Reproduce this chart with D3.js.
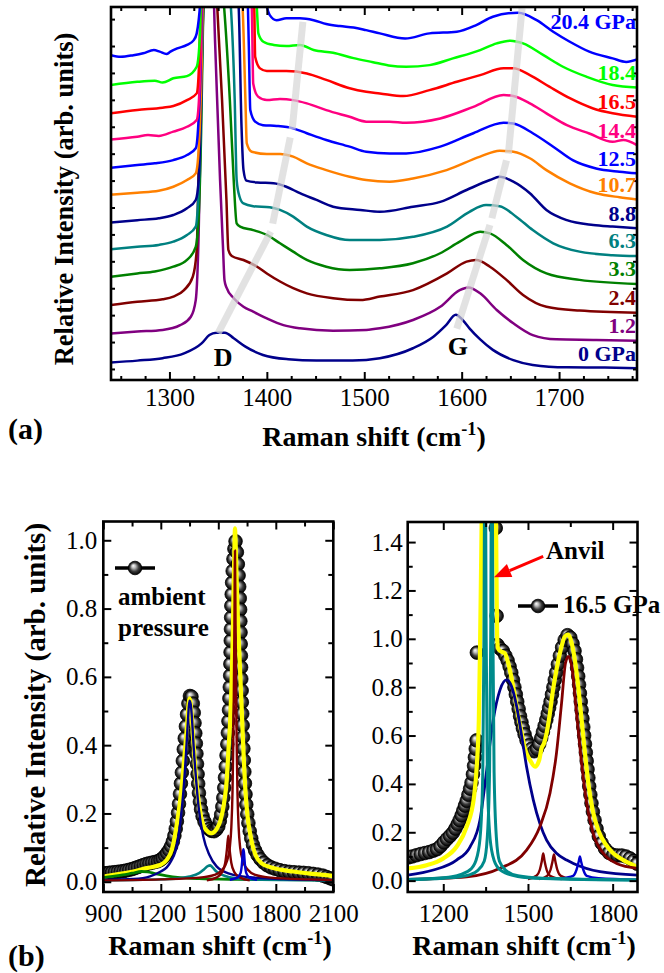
<!DOCTYPE html>
<html>
<head>
<meta charset="utf-8">
<script src="https://cdn.jsdelivr.net/npm/d3@7"></script>
<style>
  body { margin: 0; background: #fff; }
  svg { display: block; }
  text { font-family: "Liberation Serif", "Times New Roman", serif; fill: #000; }
</style>
</head>
<body>
<svg id="chart" width="664" height="973"></svg>
<script>
// ---------- panel (a): Raman spectra vs pressure, offset ----------
const pressureLabels = ['0 GPa', '1.2', '2.4', '3.3', '6.3', '8.8', '10.7', '12.5', '14.4', '16.5', '18.4', '20.4 GPa'];
const colorsA = ['#00008b', '#800080', '#800000', '#008000', '#008080', '#00008b',
                 '#ff8000', '#0000ff', '#ff0080', '#ff0000', '#00ff00', '#0000ff'];
const xTicksA = [1300, 1400, 1500, 1600, 1700];

const spec00 = [[1240,0.24],[1267,0.31],[1293,0.40],[1315,0.58],[1333,0.95],[1341,1.26],[1348,1.35],[1357,1.35],[1366,1.14],[1378,0.83],[1396,0.52],[1422,0.36],[1451,0.31],[1488,0.31],[1516,0.40],[1550,0.77],[1571,1.20],[1584,1.63],[1594,2.01],[1601,1.82],[1608,1.51],[1619,1.10],[1632,0.71],[1653,0.33],[1673,0.15],[1708,0.06],[1747,0.05],[1780,0.03]];
const spec12 = [[1240,1.32],[1267,1.39],[1293,1.45],[1311,1.63],[1322,1.94],[1327,2.56],[1330,5.04],[1332,8.75],[1334,12.5],[1339,15],[1344,15],[1347,12],[1352,7],[1355,4.5],[1356.5,3.3],[1358.5,3.03],[1366,2.63],[1376,2.31],[1386,2.13],[1400,1.88],[1417,1.63],[1434,1.51],[1468,1.42],[1502,1.45],[1516,1.51],[1550,1.82],[1578,2.31],[1598,2.93],[1607,3.03],[1619,2.81],[1636,2.19],[1653,1.70],[1673,1.26],[1697,1.10],[1738,1.08],[1780,1.05]];
const spec24 = [[1240,2.38],[1267,2.50],[1293,2.59],[1304,2.69],[1315,2.93],[1324,3.43],[1328,4.42],[1330,7.52],[1333,11.2],[1335,15],[1346,15],[1349,13.5],[1354,10],[1358.5,6.3],[1360.5,4.42],[1364,4.20],[1376,4.05],[1390,3.80],[1400,3.55],[1414,3.24],[1427,3.00],[1441,2.81],[1468,2.63],[1496,2.56],[1516,2.69],[1550,2.93],[1585,3.55],[1605,3.99],[1615,4.05],[1629,3.80],[1646,3.31],[1663,2.75],[1687,2.31],[1721,2.17],[1780,2.09]];
const spec33 = [[1240,3.43],[1267,3.55],[1285,3.62],[1304,3.80],[1318,4.05],[1327,4.54],[1330,5.66],[1332.5,8.75],[1334.3,12.5],[1336,15],[1352,15],[1356,13.5],[1362,10],[1366,7.0],[1369,5.41],[1372.5,5.29],[1386,5.16],[1400,4.98],[1413.5,4.67],[1427,4.36],[1441,4.05],[1461,3.80],[1485,3.68],[1516,3.74],[1550,3.93],[1578,4.30],[1598,4.73],[1619,5.10],[1629,5.04],[1646,4.61],[1663,4.05],[1687,3.55],[1721,3.31],[1780,3.16]];
const spec63 = [[1240,4.45],[1267,4.54],[1289,4.61],[1304,4.73],[1318,4.98],[1327,5.29],[1329.5,6.28],[1332,8.75],[1334,12.5],[1335.5,15],[1358,15],[1363,13.5],[1367,10],[1369,7.02],[1372,6.40],[1376,6.15],[1386,6.05],[1403,6.01],[1413.5,5.91],[1427,5.66],[1441,5.29],[1461,4.98],[1485,4.79],[1516,4.79],[1550,4.91],[1585,5.29],[1608,5.84],[1625,6.09],[1639,6.05],[1656,5.66],[1673,5.16],[1694,4.67],[1721,4.36],[1755,4.23],[1780,4.20]];
const spec88 = [[1240,5.44],[1267,5.53],[1289,5.60],[1304,5.72],[1318,5.97],[1327,6.28],[1330,7.02],[1332.5,10],[1335,15],[1366,15],[1371,13.5],[1374,9],[1376,7.4],[1379,7.0],[1390,6.93],[1407,6.90],[1420,6.77],[1434,6.53],[1451,6.28],[1468,6.03],[1496,5.91],[1516,5.84],[1550,6.03],[1578,6.21],[1605,6.65],[1629,7.02],[1639,7.14],[1653,6.96],[1670,6.53],[1687,5.91],[1708,5.53],[1735,5.35],[1755,5.29],[1780,5.23]];
const spec107 = [[1240,6.48],[1267,6.55],[1289,6.62],[1304,6.77],[1318,7.02],[1327,7.27],[1330,8.14],[1333,11.2],[1335,15],[1370,15],[1375,13.5],[1378,10],[1379.4,8.38],[1384.5,8.07],[1400,7.99],[1413.5,7.99],[1427,7.89],[1441,7.64],[1461,7.39],[1485,7.14],[1502,7.02],[1526,6.96],[1550,7.08],[1584.5,7.39],[1619,7.89],[1639,8.11],[1653,8.07],[1670,7.83],[1687,7.39],[1711,6.90],[1738,6.53],[1762,6.38],[1780,6.30]];
const spec125 = [[1240,7.48],[1267,7.58],[1285,7.64],[1304,7.76],[1318,7.95],[1327,8.20],[1329.5,9.0],[1332.5,11.85],[1334,15],[1379,15],[1381.5,12],[1383,9.62],[1388,9.19],[1396,9.06],[1410,9.03],[1427,8.94],[1441,8.76],[1461,8.51],[1485,8.26],[1502,8.07],[1526,8.01],[1543,8.01],[1578,8.26],[1612,8.76],[1643,9.15],[1653,9.12],[1673,8.76],[1694,8.26],[1714,7.76],[1738,7.45],[1762,7.33],[1780,7.27]];
const spec144 = [[1240,8.53],[1267,8.63],[1278,8.69],[1289,8.66],[1304,8.82],[1318,9.00],[1328,9.25],[1330.3,9.99],[1332.5,12.47],[1333.5,15],[1380,15],[1384.5,13.5],[1386,10.61],[1391,10.12],[1400,9.99],[1413.5,10.03],[1427,9.99],[1441,9.87],[1461,9.62],[1485,9.37],[1502,9.19],[1526,9.19],[1543,9.15],[1578,9.31],[1612,9.74],[1643,10.18],[1653,10.14],[1670,9.87],[1687,9.50],[1708,9.06],[1731,8.75],[1755,8.44],[1766,8.51],[1780,8.32]];
const spec165 = [[1240,9.50],[1267,9.62],[1293,9.71],[1304,9.77],[1318,9.99],[1328,10.24],[1330.3,11.23],[1332,13.4],[1333,15],[1382,15],[1387,13.5],[1388,11.6],[1393,11.17],[1400,11.07],[1420,11.07],[1441,10.98],[1461,10.74],[1485,10.43],[1502,10.30],[1516,10.24],[1540,10.14],[1567,10.36],[1595,10.67],[1619,10.92],[1643,11.17],[1653,11.17],[1670,10.92],[1690,10.49],[1711,10.06],[1735,9.68],[1755,9.50],[1780,9.37]];
const spec184 = [[1240,10.55],[1267,10.67],[1285,10.71],[1293,10.64],[1304,10.80],[1318,10.88],[1328,11.23],[1331.4,12.47],[1333,15],[1386,15],[1389.6,13.5],[1391.3,12.47],[1396.4,12.16],[1407,12.04],[1420,12.00],[1434,12.04],[1448,11.85],[1468,11.75],[1489,11.55],[1509,11.40],[1525,11.28],[1543,11.23],[1567,11.29],[1591,11.54],[1619,11.85],[1636,12.10],[1650,12.20],[1663,12.10],[1684,11.66],[1704,11.23],[1728,10.86],[1755,10.55],[1780,10.46]];
const spec204 = [[1240,11.66],[1250,11.60],[1263,11.66],[1273,11.73],[1284,11.85],[1290,11.79],[1297,11.70],[1301,11.79],[1308,11.91],[1318,12.04],[1325,12.22],[1328,12.47],[1330,12.96],[1331.5,13.6],[1333,15],[1392,15],[1398,13.8],[1400,13.46],[1403,13.15],[1410,12.96],[1420,13.03],[1434,13.03],[1448,12.96],[1461,12.82],[1475,12.74],[1489,12.69],[1502,12.59],[1516,12.47],[1542,12.28],[1567,12.47],[1595,12.53],[1615,12.78],[1632,13.09],[1658,13.24],[1677,12.96],[1694,12.53],[1711,12.16],[1731,11.79],[1755,11.54],[1769,11.41],[1780,11.50]];
const spectraA = [spec00, spec12, spec24, spec33, spec63, spec88, spec107, spec125, spec144, spec165, spec184, spec204];

// grey guides following the D and G band positions
const dBand = [[[1350,1.33],[1404,5.1]], [[1406,5.4],[1424,8.6]], [[1426,8.9],[1437,12.9]]];
const gBand = [[[1595,1.5],[1629,5.35]], [[1631,5.6],[1646,7.75]], [[1648,8.0],[1662,13.4]]];

// ---------- panel (b) left: ambient pressure fit ----------
const xTicksBL = [900, 1200, 1500, 1800, 2100];
const yTicksBL = [0, 0.2, 0.4, 0.6, 0.8, 1.0];
const ambientData = [[900,0.025],[915,0.025],[930,0.026],[945,0.027],[960,0.028],[975,0.029],[990,0.030],[1005,0.031],[1020,0.033],[1035,0.035],[1050,0.037],[1065,0.040],[1080,0.043],[1095,0.046],[1110,0.049],[1125,0.052],[1140,0.054],[1155,0.056],[1170,0.058],[1185,0.060],[1198,0.064],[1210,0.069],[1222,0.076],[1233,0.084],[1244,0.093],[1254,0.104],[1263,0.118],[1271,0.135],[1278,0.155],[1284,0.177],[1290,0.202],[1295,0.228],[1300,0.257],[1305,0.288],[1310,0.32],[1315,0.354],[1320,0.388],[1325,0.42],[1331,0.455],[1337,0.49],[1344,0.522],[1352,0.544],[1360,0.542],[1367,0.522],[1372,0.495],[1376,0.465],[1380,0.435],[1383,0.405],[1386,0.375],[1389,0.345],[1392,0.315],[1395,0.287],[1399,0.26],[1404,0.234],[1410,0.212],[1418,0.192],[1428,0.176],[1440,0.163],[1452,0.154],[1465,0.149],[1478,0.148],[1490,0.153],[1500,0.162],[1508,0.178],[1515,0.197],[1521,0.22],[1526,0.246],[1531,0.275],[1535,0.305],[1539,0.337],[1543,0.37],[1547,0.403],[1550,0.436],[1553,0.47],[1556,0.503],[1558,0.537],[1560,0.57],[1562,0.604],[1563,0.638],[1564,0.672],[1565,0.706],[1566,0.74],[1567,0.774],[1568,0.808],[1570,0.842],[1572,0.876],[1575,0.91],[1579,0.945],[1584,0.975],[1590,0.997],[1597,0.965],[1602,0.93],[1606,0.897],[1609,0.864],[1612,0.83],[1614,0.797],[1615,0.763],[1616,0.73],[1617,0.696],[1618,0.662],[1619,0.628],[1620,0.594],[1622,0.56],[1623,0.526],[1625,0.492],[1627,0.458],[1629,0.424],[1631,0.39],[1633,0.356],[1636,0.322],[1639,0.288],[1642,0.256],[1646,0.226],[1651,0.198],[1657,0.172],[1664,0.148],[1672,0.127],[1681,0.108],[1692,0.092],[1705,0.078],[1720,0.066],[1737,0.056],[1756,0.048],[1776,0.042],[1797,0.038],[1820,0.034],[1845,0.031],[1870,0.029],[1895,0.028],[1920,0.027],[1945,0.026],[1970,0.025],[1995,0.023],[2020,0.021],[2045,0.018],[2065,0.014],[2085,0.010],[2100,0.007]];
const ambientFit = [[900,0.015],[987,0.023],[1057,0.030],[1126,0.040],[1196,0.049],[1231,0.064],[1257,0.093],[1279,0.152],[1297,0.220],[1314,0.308],[1328,0.396],[1339,0.473],[1345,0.522],[1350,0.537],[1356,0.522],[1366,0.444],[1378,0.347],[1392,0.259],[1410,0.191],[1436,0.152],[1465,0.142],[1491,0.154],[1512,0.181],[1530,0.230],[1544,0.298],[1552,0.376],[1561,0.46],[1568,0.56],[1574,0.68],[1578,0.8],[1582,0.92],[1585,1.0],[1587,1.035],[1590,1.0],[1594,0.92],[1598,0.84],[1603,0.76],[1609,0.68],[1615,0.6],[1621,0.52],[1627,0.44],[1633,0.36],[1640,0.28],[1651,0.2],[1669,0.132],[1691,0.083],[1726,0.054],[1787,0.040],[1892,0.030],[1996,0.023],[2100,0.017]];
const ambientDBand = [[900,0.005],[1057,0.008],[1144,0.016],[1200,0.03],[1231,0.042],[1255,0.062],[1274,0.085],[1290,0.125],[1305,0.19],[1318,0.265],[1332,0.38],[1342,0.475],[1349,0.53],[1356,0.52],[1363,0.475],[1372,0.39],[1384,0.3],[1399,0.21],[1422,0.132],[1453,0.079],[1491,0.045],[1561,0.023],[1665,0.013],[1839,0.008],[2100,0.005]];
const ambientGBand = [[900,0.004],[1200,0.007],[1400,0.012],[1480,0.02],[1520,0.035],[1545,0.06],[1560,0.1],[1568,0.16],[1574,0.26],[1578,0.4],[1581,0.55],[1584,0.75],[1587,0.97],[1590,0.75],[1593,0.55],[1596,0.4],[1600,0.26],[1606,0.16],[1614,0.1],[1629,0.06],[1654,0.035],[1694,0.02],[1774,0.012],[1974,0.007],[2100,0.005]];
const ambientD2 = [[1440,0.004],[1490,0.012],[1520,0.028],[1536,0.055],[1545,0.095],[1552,0.135],[1559,0.095],[1568,0.055],[1584,0.028],[1614,0.012],[1664,0.004]];
const ambientDPrime = [[1560,0.006],[1600,0.012],[1616,0.025],[1623,0.05],[1628,0.085],[1631,0.095],[1634,0.085],[1639,0.05],[1646,0.025],[1662,0.012],[1702,0.006]];
const ambientTeal = [[900,0.004],[1250,0.008],[1350,0.015],[1400,0.025],[1425,0.036],[1445,0.046],[1458,0.048],[1470,0.042],[1490,0.03],[1520,0.02],[1560,0.013],[1650,0.007],[2100,0.004]];
const ambientGreen = [[900,0.012],[950,0.016],[1000,0.02],[1050,0.025],[1100,0.03],[1130,0.029],[1170,0.024],[1230,0.017],[1300,0.012],[1400,0.009],[1600,0.007],[1850,0.006],[2100,0.005]];

// ---------- panel (b) right: 16.5 GPa fit ----------
const xTicksBR = [1200, 1500, 1800];
const yTicksBR = [0, 0.2, 0.4, 0.6, 0.8, 1.0, 1.2, 1.4];
const hpData = [[1076,0.096],[1090,0.10],[1105,0.105],[1120,0.11],[1135,0.114],[1150,0.118],[1165,0.124],[1178,0.13],[1190,0.142],[1202,0.158],[1213,0.172],[1224,0.185],[1234,0.198],[1243,0.215],[1251,0.233],[1258,0.25],[1265,0.27],[1271,0.29],[1277,0.31],[1283,0.33],[1289,0.355],[1295,0.38],[1300,0.405],[1305,0.44],[1309,0.475],[1312,0.51],[1315,0.545],[1318,0.58],[1319,0.943],[1386,1.458],[1389,1.095],[1392,0.975],[1401,0.96],[1411,0.95],[1420,0.93],[1428,0.91],[1435,0.885],[1441,0.86],[1447,0.83],[1452,0.80],[1457,0.77],[1462,0.74],[1467,0.71],[1472,0.68],[1477,0.655],[1482,0.63],[1488,0.605],[1495,0.58],[1503,0.56],[1512,0.545],[1522,0.535],[1532,0.545],[1540,0.565],[1547,0.59],[1553,0.615],[1559,0.64],[1565,0.665],[1570,0.69],[1575,0.715],[1580,0.74],[1585,0.77],[1590,0.80],[1595,0.83],[1600,0.86],[1606,0.895],[1613,0.93],[1621,0.965],[1630,0.995],[1640,1.015],[1650,1.005],[1658,0.98],[1665,0.95],[1670,0.915],[1674,0.88],[1678,0.845],[1681,0.81],[1684,0.775],[1687,0.74],[1690,0.705],[1693,0.67],[1696,0.635],[1699,0.60],[1702,0.565],[1705,0.53],[1708,0.495],[1711,0.46],[1714,0.425],[1717,0.39],[1721,0.355],[1725,0.32],[1730,0.285],[1736,0.25],[1743,0.215],[1751,0.183],[1761,0.155],[1773,0.132],[1787,0.115],[1802,0.106],[1817,0.104],[1832,0.104],[1847,0.10],[1861,0.092],[1874,0.082],[1886,0.07]];
const hpFit = [[1076,0.051],[1141,0.064],[1200,0.092],[1247,0.140],[1283,0.223],[1309,0.347],[1320,0.499],[1326,0.665],[1330,0.94],[1334,1.3],[1337,1.6],[1340,2.0],[1348,4],[1360,2.5],[1372,4],[1382,2.0],[1386,1.6],[1389,1.2],[1391,1.0],[1394,0.96],[1401,0.95],[1418,0.94],[1430,0.9],[1442,0.837],[1454,0.761],[1466,0.678],[1478,0.61],[1489,0.547],[1507,0.499],[1525,0.471],[1540,0.499],[1548,0.547],[1557,0.568],[1566,0.61],[1576,0.678],[1587,0.775],[1601,0.872],[1616,0.955],[1631,1.01],[1643,1.017],[1655,0.982],[1666,0.913],[1678,0.803],[1690,0.665],[1702,0.527],[1714,0.402],[1729,0.292],[1749,0.209],[1773,0.154],[1802,0.113],[1838,0.085],[1887,0.057]];
const hpAnvil1 = [[1074,0.005],[1200,0.012],[1260,0.025],[1300,0.05],[1320,0.10],[1332,0.2],[1340,0.45],[1344,1.0],[1346,1.6],[1348,3],[1350,1.6],[1352,1.0],[1356,0.45],[1364,0.2],[1376,0.10],[1396,0.05],[1436,0.025],[1500,0.012],[1650,0.006],[1888,0.003]];
const hpAnvil2 = [[1074,0.004],[1200,0.01],[1280,0.02],[1320,0.04],[1345,0.08],[1356,0.18],[1364,0.45],[1368,1.0],[1370,1.6],[1372,3],[1374,1.6],[1376,1.0],[1380,0.45],[1388,0.18],[1399,0.08],[1424,0.04],[1464,0.02],[1550,0.01],[1888,0.003]];
const hpDBand = [[1074,0.023],[1165,0.044],[1247,0.085],[1295,0.14],[1330,0.251],[1354,0.458],[1377,0.665],[1401,0.789],[1424,0.83],[1442,0.803],[1460,0.72],[1478,0.596],[1495,0.471],[1519,0.333],[1542,0.237],[1566,0.168],[1601,0.113],[1637,0.085],[1661,0.071],[1755,0.037],[1888,0.023]];
const hpGBand = [[1074,0.005],[1283,0.016],[1401,0.051],[1495,0.126],[1542,0.223],[1578,0.361],[1601,0.527],[1619,0.734],[1633,0.9],[1643,0.927],[1655,0.886],[1672,0.692],[1690,0.485],[1708,0.32],[1731,0.195],[1767,0.113],[1814,0.071],[1888,0.051]];
const hpG2 = [[1500,0.006],[1530,0.02],[1542,0.045],[1549,0.08],[1554,0.112],[1559,0.08],[1566,0.045],[1578,0.02],[1620,0.006]];
const hpG3 = [[1540,0.006],[1568,0.02],[1580,0.045],[1587,0.08],[1592,0.108],[1597,0.08],[1604,0.045],[1616,0.02],[1650,0.006]];
const hpDPrime = [[1620,0.01],[1660,0.02],[1672,0.045],[1680,0.08],[1684,0.1],[1688,0.08],[1696,0.045],[1708,0.02],[1750,0.01],[1888,0.004]];

// ---------- drawing ----------
const svg = d3.select('#chart');
const defs = svg.append('defs');
const ball = defs.append('radialGradient').attr('id', 'ball')
  .attr('cx', '50%').attr('cy', '50%').attr('r', '50%').attr('fx', '36%').attr('fy', '32%');
ball.append('stop').attr('offset', '0%').attr('stop-color', '#ffffff');
ball.append('stop').attr('offset', '28%').attr('stop-color', '#bdbdbd');
ball.append('stop').attr('offset', '65%').attr('stop-color', '#3a3a3a');
ball.append('stop').attr('offset', '100%').attr('stop-color', '#000000');

const addClip = (id, x, y) => {
  const [x0, x1] = x.range(), [y0, y1] = y.range();
  defs.append('clipPath').attr('id', id).append('rect')
    .attr('x', x0).attr('y', y1).attr('width', x1 - x0).attr('height', y0 - y1);
};

const lineOf = (x, y) => d3.line().x(d => x(d[0])).y(d => y(d[1])).curve(d3.curveMonotoneX);

// frame with inward ticks on all four sides
const drawFrame = (g, x, y, o) => {
  const [x0, x1] = x.range(), [y0, y1] = y.range();
  const style = sel => {
    sel.select('.domain').remove();
    sel.selectAll('line').attr('stroke', '#000').attr('stroke-width', 2);
    sel.selectAll('text').style('font-size', o.font + 'px');
  };
  const bottom = d3.axisBottom(x).tickValues(o.xMajor).tickSize(-o.major).tickPadding(o.xPad)
    .tickFormat(o.xLabels ? d3.format('d') : '');
  g.append('g').attr('transform', `translate(0,${y0})`).call(bottom).call(style);
  g.append('g').attr('transform', `translate(0,${y0})`)
    .call(d3.axisBottom(x).tickValues(o.xMinor).tickSize(-o.minor).tickFormat('')).call(style);
  g.append('g').attr('transform', `translate(0,${y1})`)
    .call(d3.axisTop(x).tickValues(o.xMajor).tickSize(-o.major).tickFormat('')).call(style);
  g.append('g').attr('transform', `translate(0,${y1})`)
    .call(d3.axisTop(x).tickValues(o.xMinor).tickSize(-o.minor).tickFormat('')).call(style);
  const left = d3.axisLeft(y).tickValues(o.yMajor).tickSize(-o.yMajorLen).tickPadding(o.yPad)
    .tickFormat(o.yLabels ? d3.format('.1f') : '');
  g.append('g').attr('transform', `translate(${x0},0)`).call(left).call(style);
  g.append('g').attr('transform', `translate(${x1},0)`)
    .call(d3.axisRight(y).tickValues(o.yMajor).tickSize(-o.yMajorLen).tickFormat('')).call(style);
  if (o.yMinor.length) {
    g.append('g').attr('transform', `translate(${x0},0)`)
      .call(d3.axisLeft(y).tickValues(o.yMinor).tickSize(-o.minor).tickFormat('')).call(style);
    g.append('g').attr('transform', `translate(${x1},0)`)
      .call(d3.axisRight(y).tickValues(o.yMinor).tickSize(-o.minor).tickFormat('')).call(style);
  }
  g.append('rect').attr('x', x0).attr('y', y1).attr('width', x1 - x0).attr('height', y0 - y1)
    .attr('fill', 'none').attr('stroke', '#000').attr('stroke-width', 2.6);
};

const ramanTitle = (g, cx, by, size) => {
  const t = g.append('text').attr('x', cx).attr('y', by).attr('text-anchor', 'middle')
    .style('font-size', size + 'px').style('font-weight', 'bold');
  t.append('tspan').text('Raman shift (cm');
  t.append('tspan').attr('dy', -size * 0.38).style('font-size', (size * 0.65) + 'px').text('-1');
  t.append('tspan').attr('dy', size * 0.38).text(')');
};

const boldText = (g, x, y, s, size, anchor = 'start', fill = '#000') =>
  g.append('text').attr('x', x).attr('y', y).attr('text-anchor', anchor).attr('fill', fill)
    .style('font-size', size + 'px').style('font-weight', 'bold').style('fill', fill).text(s);

// ----- panel (a)
const xA = d3.scaleLinear().domain([1240, 1780]).range([111, 637]);
const yA = d3.scaleLinear().domain([-0.41, 13.45]).range([380, 7]);
addClip('clipA', xA, yA);
const gA = svg.append('g');
const lineA = lineOf(xA, yA);
const curvesA = gA.append('g').attr('clip-path', 'url(#clipA)');
spectraA.forEach((s, i) => {
  curvesA.append('path').datum(s).attr('d', lineA)
    .attr('fill', 'none').attr('stroke', colorsA[i]).attr('stroke-width', 2.5).attr('stroke-linejoin', 'round');
});
[...dBand, ...gBand].forEach(seg => {
  curvesA.append('path').datum(seg).attr('d', d3.line().x(d => xA(d[0])).y(d => yA(d[1])))
    .attr('stroke', '#d6d6d6').attr('stroke-opacity', 0.7).attr('stroke-width', 7).attr('fill', 'none');
});
drawFrame(gA, xA, yA, {
  xMajor: xTicksA, xMinor: d3.range(1250, 1780, 25).filter(v => v % 100 !== 0),
  yMajor: d3.range(0, 14), yMinor: [], major: 8, minor: 4, yMajorLen: 4,
  xPad: 8, yPad: 6, font: 25, xLabels: true, yLabels: false
});
spectraA.forEach((s, i) => {
  const last = s[s.length - 1][1];
  const yc = yA(last) + (i === spectraA.length - 1 ? -38 : -15);
  boldText(gA, 636, yc + 7.5, pressureLabels[i], 22, 'end', colorsA[i]);
});
boldText(gA, xA(1355), yA(0.1), 'D', 26, 'middle');
boldText(gA, xA(1596), yA(0.52), 'G', 26, 'middle');
ramanTitle(gA, 374, 446, 28);
boldText(gA, 8, 439, '(a)', 30);
gA.append('text').attr('transform', 'translate(73,199) rotate(-90)').attr('text-anchor', 'middle')
  .style('font-size', '26.5px').style('font-weight', 'bold').text('Relative Intensity (arb. units)');

// ----- panel (b) helpers
const drawBalls = (g, data, x, y) => {
  g.selectAll(null).data(data).join('circle')
    .attr('cx', d => x(d[0])).attr('cy', d => y(d[1])).attr('r', 6.8)
    .attr('fill', 'url(#ball)').attr('stroke', '#000').attr('stroke-width', 0.8);
};
const drawLines = (g, list, x, y) => {
  const ln = lineOf(x, y);
  list.forEach(([data, color, w]) => {
    g.append('path').datum(data).attr('d', ln).attr('fill', 'none')
      .attr('stroke', color).attr('stroke-width', w).attr('stroke-linejoin', 'round');
  });
};
const legendBall = (g, x, y) => {
  g.append('line').attr('x1', x - 20).attr('x2', x + 20).attr('y1', y).attr('y2', y)
    .attr('stroke', '#000').attr('stroke-width', 3.5);
  g.append('circle').attr('cx', x).attr('cy', y).attr('r', 6.8)
    .attr('fill', 'url(#ball)').attr('stroke', '#000').attr('stroke-width', 0.8);
};

// ----- panel (b) left
const xBL = d3.scaleLinear().domain([900, 2100]).range([103.3, 333.3]);
const yBL = d3.scaleLinear().domain([-0.03, 1.055]).range([892, 521.5]);
addClip('clipBL', xBL, yBL);
const gBL = svg.append('g');
const plotBL = gBL.append('g').attr('clip-path', 'url(#clipBL)');
drawBalls(plotBL, ambientData, xBL, yBL);
drawLines(plotBL, [
  [ambientFit, '#ffff00', 4.2],
  [ambientGreen, '#008000', 2.8],
  [ambientTeal, '#008080', 2.6],
  [ambientDBand, '#00008b', 2.4],
  [ambientD2, '#800000', 2.4],
  [ambientGBand, '#800000', 2.4],
  [ambientDPrime, '#0000cd', 2.4]
], xBL, yBL);
drawFrame(gBL, xBL, yBL, {
  xMajor: xTicksBL, xMinor: [1050, 1350, 1650, 1950],
  yMajor: yTicksBL, yMinor: [0.1, 0.3, 0.5, 0.7, 0.9], major: 8, minor: 5, yMajorLen: 8,
  xPad: 12, yPad: 6, font: 25, xLabels: true, yLabels: true
});
legendBall(gBL, 135, 568);
boldText(gBL, 118, 605, 'ambient', 25);
boldText(gBL, 118, 636, 'pressure', 25);
ramanTitle(gBL, 220, 955, 28);
boldText(gBL, 8, 966, '(b)', 30);
gBL.append('text').attr('transform', 'translate(45,705) rotate(-90)').attr('text-anchor', 'middle')
  .style('font-size', '29px').style('font-weight', 'bold').text('Relative Intensity (arb. units)');

// ----- panel (b) right
const xBR = d3.scaleLinear().domain([1074, 1888]).range([407.7, 637.5]);
const yBR = d3.scaleLinear().domain([-0.047, 1.483]).range([892, 522]);
addClip('clipBR', xBR, yBR);
const gBR = svg.append('g');
const plotBR = gBR.append('g').attr('clip-path', 'url(#clipBR)');
drawBalls(plotBR, hpData, xBR, yBR);
drawLines(plotBR, [
  [hpFit, '#ffff00', 4.2],
  [hpDBand, '#00008b', 2.8],
  [hpGBand, '#800000', 2.8],
  [hpG2, '#800000', 2.4],
  [hpG3, '#800000', 2.4],
  [hpDPrime, '#0000cd', 2.4],
  [hpAnvil1, '#008b8b', 3],
  [hpAnvil2, '#008b8b', 3]
], xBR, yBR);
drawFrame(gBR, xBR, yBR, {
  xMajor: xTicksBR, xMinor: [1350, 1650],
  yMajor: yTicksBR, yMinor: [0.1, 0.3, 0.5, 0.7, 0.9, 1.1, 1.3], major: 8, minor: 5, yMajorLen: 8,
  xPad: 12, yPad: 5, font: 25, xLabels: true, yLabels: true
});
ramanTitle(gBR, 524, 955, 28);
legendBall(gBR, 538, 606);
boldText(gBR, 563, 613, '16.5 GPa', 25);
boldText(gBR, 546, 559, 'Anvil', 25);

// red arrow pointing at the anvil peak
const tail = [xBR(1554), yBR(1.341)], tip = [xBR(1379.6), yBR(1.255)];
const ang = Math.atan2(tip[1] - tail[1], tip[0] - tail[0]);
const hl = 17, hw = 7;
const base = [tip[0] - hl * Math.cos(ang), tip[1] - hl * Math.sin(ang)];
gBR.append('line').attr('x1', tail[0]).attr('y1', tail[1]).attr('x2', base[0]).attr('y2', base[1])
  .attr('stroke', '#ff0000').attr('stroke-width', 3);
gBR.append('path').attr('fill', '#ff0000').attr('d', d3.line()([
  tip,
  [base[0] + hw * Math.sin(ang), base[1] - hw * Math.cos(ang)],
  [base[0] - hw * Math.sin(ang), base[1] + hw * Math.cos(ang)]
]) + 'Z');
</script>
</body>
</html>
